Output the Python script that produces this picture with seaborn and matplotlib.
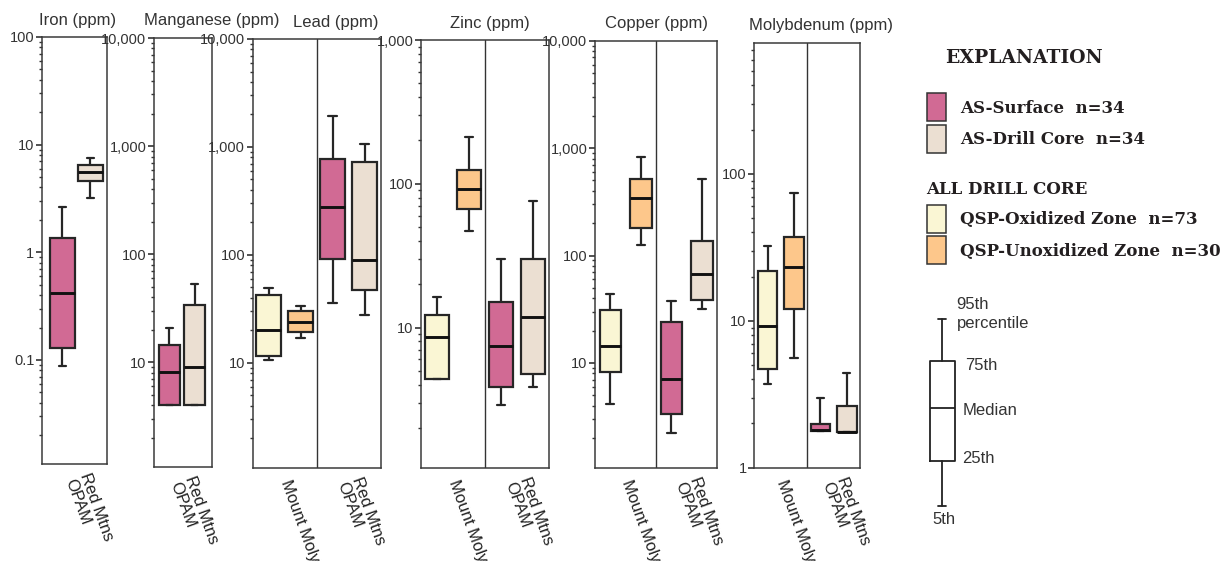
import numpy as np
import pandas as pd
import matplotlib
matplotlib.use("Agg")
import matplotlib.pyplot as plt
from matplotlib.ticker import LogLocator, FuncFormatter, NullFormatter
from matplotlib.patches import Patch
from matplotlib.font_manager import FontProperties
import seaborn as sns

# ---------------- data (5th, 25th, 50th, 75th, 95th percentiles, ppm) ----------------
ELEMENTS = ["Iron", "Manganese", "Lead", "Zinc", "Copper", "Molybdenum"]
TITLES = ["Iron (ppm)", "Manganese (ppm)", "Lead (ppm)", "Zinc (ppm)",
          "Copper (ppm)", "Molybdenum (ppm)"]
SERIES = ["AS-Surface", "AS-Drill Core", "QSP-Oxidized Zone", "QSP-Unoxidized Zone"]
SERIES_N = [34, 34, 73, 30]
AREAS = ["Mount Moly", "Red Mtns\nOPAM"]
PERCENTILES = [5, 25, 50, 75, 95]

AS_SURFACE = [            # Red Mtns OPAM
    [0.087, 0.13, 0.42, 1.35, 2.62],
    [4.0, 4.0, 8.1, 14.4, 20.7],
    [36.2, 91.8, 280, 775, 1935],
    [2.91, 3.85, 7.43, 15.1, 30.0],
    [2.22, 3.36, 7.13, 23.9, 37.4],
    [1.78, 1.78, 1.80, 1.99, 3.0],
]
AS_DRILL_CORE = [         # Red Mtns OPAM
    [3.18, 4.6, 5.58, 6.49, 7.54],
    [4.0, 4.0, 9.0, 34.0, 53.0],
    [27.6, 47.4, 89.8, 733, 1055],
    [3.85, 4.77, 11.9, 30.0, 76.0],
    [32.1, 38.5, 67.3, 136, 513],
    [1.75, 1.75, 1.75, 2.65, 4.4],
]
QSP_OXIDIZED = [          # Mount Moly
    None,
    None,
    [10.7, 11.6, 20.1, 42.3, 49.9],
    [4.4, 4.4, 8.65, 12.2, 16.2],
    [4.17, 8.24, 14.3, 30.9, 43.5],
    [3.72, 4.68, 9.25, 22.0, 32.4],
]
QSP_UNOXIDIZED = [        # Mount Moly
    None,
    None,
    [17.1, 19.4, 23.9, 30.0, 33.6],
    [46.9, 67.1, 91.8, 125, 213],
    [125, 180, 346, 513, 824],
    [5.62, 12.1, 23.1, 37.2, 74.6],
]

# ---------------- styling / layout ----------------
PALETTE = {"AS-Surface": "#D16A94", "AS-Drill Core": "#EBDFD2",
           "QSP-Oxidized Zone": "#FAF6D4", "QSP-Unoxidized Zone": "#FDC78B"}
EDGE = "#262626"
TEXT = "#231f20"
W, H = 1227, 562
PANEL_PX = [(42, 37, 107, 464), (154, 38, 212, 467), (252.7, 39, 380.7, 467.7),
            (421, 40, 549, 467.7), (595, 40.7, 717.3, 467.7), (754.3, 42.7, 860, 467.7)]
YLIMS = [(0.0108, 100), (1.07, 10000), (1.07, 10000), (1.06, 1000), (1.06, 10000), (1.0, 782)]
XLIMS = [(-0.73, 1.59), (-0.61, 1.69), (-0.5, 3.5), (-0.5, 3.5), (-0.5, 3.5), (-0.5, 3.5)]
BOX_W = [0.88, 0.85, 0.78, 0.77, 0.70, 0.74]
TITLE_X = [0.55, 0.99, 0.65, 0.54, 0.50, 0.63]
TITLE_FS = [12, 12, 12, 12, 12, 12]

SERIES_STATS = {"AS-Surface": AS_SURFACE, "AS-Drill Core": AS_DRILL_CORE,
                "QSP-Oxidized Zone": QSP_OXIDIZED, "QSP-Unoxidized Zone": QSP_UNOXIDIZED}
SLOT_ORDER = ["QSP-Oxidized Zone", "QSP-Unoxidized Zone", "AS-Surface", "AS-Drill Core"]
# repeat counts so that the 5/25/50/75/95th percentiles of 21 values equal the stats
REPEATS = [5, 5, 5, 4, 2]

rows = []
for s in SLOT_ORDER:
    for el, st in zip(ELEMENTS, SERIES_STATS[s]):
        if st is None:
            continue
        for v, r in zip(st, REPEATS):
            rows += [{"element": el, "series": s, "value": v}] * r
df = pd.DataFrame(rows)

sns.set_style("ticks")
plt.rcParams["font.family"] = ["Liberation Sans", "DejaVu Sans"]
plt.rcParams["text.color"] = TEXT

fig = plt.figure(figsize=(W / 100, H / 100), dpi=100)


def ytick_fmt(v, pos):
    if v >= 1:
        return f"{int(round(v)):,}"
    return f"{v:g}"


for i, el in enumerate(ELEMENTS):
    x0, y0, x1, y1 = PANEL_PX[i]
    ax = fig.add_axes([x0 / W, 1 - y1 / H, (x1 - x0) / W, (y1 - y0) / H])
    ax.set_yscale("log")
    d = df[df["element"] == el]
    order = [s for s in SLOT_ORDER if s in set(d["series"])]
    sns.boxplot(data=d, x="series", y="value", hue="series", order=order,
                hue_order=order, palette=PALETTE, dodge=False, width=BOX_W[i],
                whis=(5, 95), showfliers=False, saturation=1, linecolor=EDGE,
                linewidth=1.6, medianprops=dict(linewidth=2.1, color="#111111"),
                capwidths=0.27, legend=False, ax=ax)
    ax.set_ylim(*YLIMS[i])
    ax.set_xlim(*XLIMS[i])
    ax.yaxis.set_major_locator(LogLocator(base=10, numticks=12))
    ax.yaxis.set_minor_locator(LogLocator(base=10, subs=np.arange(2, 10), numticks=12))
    ax.yaxis.set_major_formatter(FuncFormatter(ytick_fmt))
    ax.yaxis.set_minor_formatter(NullFormatter())
    ax.tick_params(axis="y", which="major", length=4, width=1.2, labelsize=10.5,
                   pad=1.5, color="#333333", labelcolor="#333333")
    ax.tick_params(axis="y", which="minor", length=2.5, width=1.0, color="#333333")
    areas = sorted({AREAS[0] if s.startswith("QSP") else AREAS[1] for s in order},
                   key=AREAS.index)
    centers = [0.5] if len(areas) == 1 else [0.5, 2.5]
    ax.set_xticks(centers)
    ax.set_xticklabels(areas, rotation=-70, rotation_mode="anchor", ha="left",
                       va="center", fontsize=12, color="#222222",
                       linespacing=1.05)
    ax.tick_params(axis="x", length=0, pad=9)
    ax.set_xlabel("")
    ax.set_ylabel("")
    if len(areas) == 2:
        ax.axvline(1.5, color="#333333", lw=1.0)
    for sp in ax.spines.values():
        sp.set_color("#3a3a3a")
        sp.set_linewidth(1.1)
    ax.set_title(TITLES[i], fontsize=TITLE_FS[i], x=TITLE_X[i], pad=9, color="#333333")

# ---------------- explanation (legend) ----------------
serif_b = dict(family="DejaVu Serif", weight="bold")
fig.text(945 / W, 1 - 58 / H, "EXPLANATION", fontsize=13.5, va="center", ha="left",
         color=TEXT, **serif_b)
fig.text(926 / W, 1 - 190 / H, "ALL DRILL CORE", fontsize=12, va="center", ha="left",
         color=TEXT, **serif_b)

prop = FontProperties(family="DejaVu Serif", weight="bold", size=12)
for group, top in ((SERIES[:2], 93.3), (SERIES[2:], 205)):
    handles = [Patch(facecolor=PALETTE[s], edgecolor="#333333", linewidth=1.1,
                     label=f"{s}  n={SERIES_N[SERIES.index(s)]}") for s in group]
    fig.legend(handles=handles, loc="upper left", bbox_to_anchor=(926.7 / W, 1 - top / H),
               frameon=False, borderpad=0, borderaxespad=0, handlelength=1.14,
               handleheight=2.21, handletextpad=0.84, labelspacing=0.2, prop=prop,
               labelcolor=TEXT)

# box-plot key
KEY_STATS = [dict(whislo=19.3, q1=64.3, med=117, q3=164.3, whishi=206, fliers=[])]
kx0, ky0, kx1, ky1 = 917, 300, 967, 525
kax = fig.add_axes([kx0 / W, 1 - ky1 / H, (kx1 - kx0) / W, (ky1 - ky0) / H])
kax.bxp(KEY_STATS, positions=[25.5], widths=25, capwidths=8, showfliers=False,
        boxprops=dict(color="#222222", linewidth=1.3),
        whiskerprops=dict(color="#222222", linewidth=1.3),
        capprops=dict(color="#222222", linewidth=1.3),
        medianprops=dict(color="#222222", linewidth=1.3), manage_ticks=False)
kax.set_xlim(0, 50)
kax.set_ylim(0, 225)
kax.axis("off")
key_labels = [("95th", 39.7, 221), ("percentile", 39.7, 201.7), ("75th", 48, 160),
              ("Median", 45.3, 114.3), ("25th", 45.3, 66.7), ("5th", 15.3, 5)]
for txt, tx, ty in key_labels:
    kax.text(tx, ty, txt, fontsize=12, ha="left", va="center", color="#333333",
             clip_on=False)

fig.savefig("out.png", dpi=100)
